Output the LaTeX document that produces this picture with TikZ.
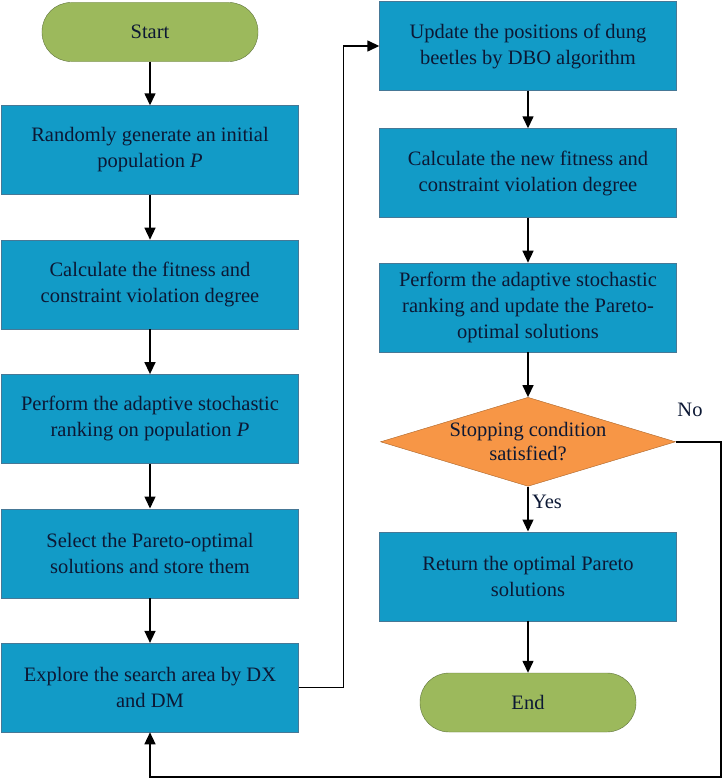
\documentclass[tikz,border=0pt]{standalone}
\usepackage{fontspec}
\setmainfont{Liberation Serif}
\usepackage{tikz}
\usetikzlibrary{calc,shapes.geometric,arrows.meta}
\definecolor{boxblue}{RGB}{18,155,199}
\definecolor{boxedge}{RGB}{70,120,150}
\definecolor{termgreen}{RGB}{156,185,92}
\definecolor{termedge}{RGB}{95,115,60}
\definecolor{decorange}{RGB}{247,150,70}
\definecolor{decedge}{RGB}{170,100,40}
\definecolor{inkblue}{RGB}{12,24,52}
\tikzstyle{bluebox}=[rectangle,draw=boxedge,fill=boxblue,text=inkblue,
                     minimum width=297bp,minimum height=89bp,inner sep=2pt,
                     align=center,font=\fontsize{20.5bp}{26bp}\selectfont]
\tikzstyle{termbox}=[rectangle,rounded corners=29bp,draw=termedge,fill=termgreen,
                     text=inkblue,minimum width=216bp,minimum height=59bp,
                     font=\fontsize{20.5bp}{26bp}\selectfont]
\tikzstyle{decisionbox}=[diamond,draw=decedge,fill=decorange,inner sep=0pt,
                         minimum width=295bp,minimum height=89bp]
\tikzstyle{flowarrow}=[line width=1.4bp,-{Triangle[length=12bp,width=11bp]}]
\newcommand\leftcol{150}
\newcommand\rightcol{528}
\newcommand\vertspacing{134.4}

\begin{document}
\begin{tikzpicture}[x=1bp,y=-1bp]
    \useasboundingbox (0,0) rectangle (724,780);
    	\node [termbox] (start) at (\leftcol,32) {Start};
    	\node [bluebox] (init) at (\leftcol,150) {
    		Randomly generate an initial\\ population \textit{P}
    	};
    	\node [bluebox] (fitness) at (\leftcol,150+\vertspacing*1) {
    		Calculate the fitness and\\ constraint violation degree
    	};
    	\node [bluebox] (ranking) at (\leftcol,150+\vertspacing*2) {
    		Perform the adaptive stochastic\\ ranking on population \textit{P}
    	};
    	\node [bluebox] (select) at (\leftcol,150+\vertspacing*3) {
    		Select the Pareto-optimal\\ solutions and store them
    	};
    	\node [bluebox] (explore) at (\leftcol,150+\vertspacing*4) {
    		Explore the search area by DX\\ and DM
    	};
    	\node [bluebox] (update) at (\rightcol,46) {
    		Update the positions of dung\\ beetles by DBO algorithm
    	};
    	\node [bluebox] (newfit) at (\rightcol,173) {
    		Calculate the new fitness and\\ constraint violation degree
    	};
    	\node [bluebox] (rerank) at (\rightcol,173+\vertspacing*1) {
    		Perform the adaptive stochastic\\ ranking and update the Pareto-\\ optimal solutions
    	};
    	\node [decisionbox,label={[text=inkblue,align=center,
    	       font=\fontsize{20.5bp}{24bp}\selectfont]center:Stopping condition\\ satisfied?}]
    	      (stop) at (\rightcol,173+\vertspacing*2) {};
    	\node [bluebox] (result) at (\rightcol,173+\vertspacing*3) {
    		Return the optimal Pareto\\ solutions
    	};
    	\node [termbox] (finish) at (\rightcol,702.5) {End};
    	% connectors
    	\draw [flowarrow] (start) -- (init);
    	\draw [flowarrow] (init) -- (fitness);
    	\draw [flowarrow] (fitness) -- (ranking);
    	\draw [flowarrow] (ranking) -- (select);
    	\draw [flowarrow] (select) -- (explore);
    	\draw [flowarrow] (explore.east) -- ++(45,0) |- (update.west);
    	\draw [flowarrow] (update) -- (newfit);
    	\draw [flowarrow] (newfit) -- (rerank);
    	\draw [flowarrow] (rerank) -- (stop);
    	\draw [flowarrow] (stop) -- node [right,pos=0.35,text=inkblue,
    	       font=\fontsize{20.5bp}{24bp}\selectfont] (yes) {Yes} (result);
    	\draw [flowarrow] (result) -- (finish);
    	\coordinate (corner) at (721,777);
    	\draw [flowarrow] (stop.east) -| (corner) -| (explore.south);
    	\node [text=inkblue,font=\fontsize{20.5bp}{24bp}\selectfont] (no) at (690,410) {No};
    \end{tikzpicture}
\end{document}
